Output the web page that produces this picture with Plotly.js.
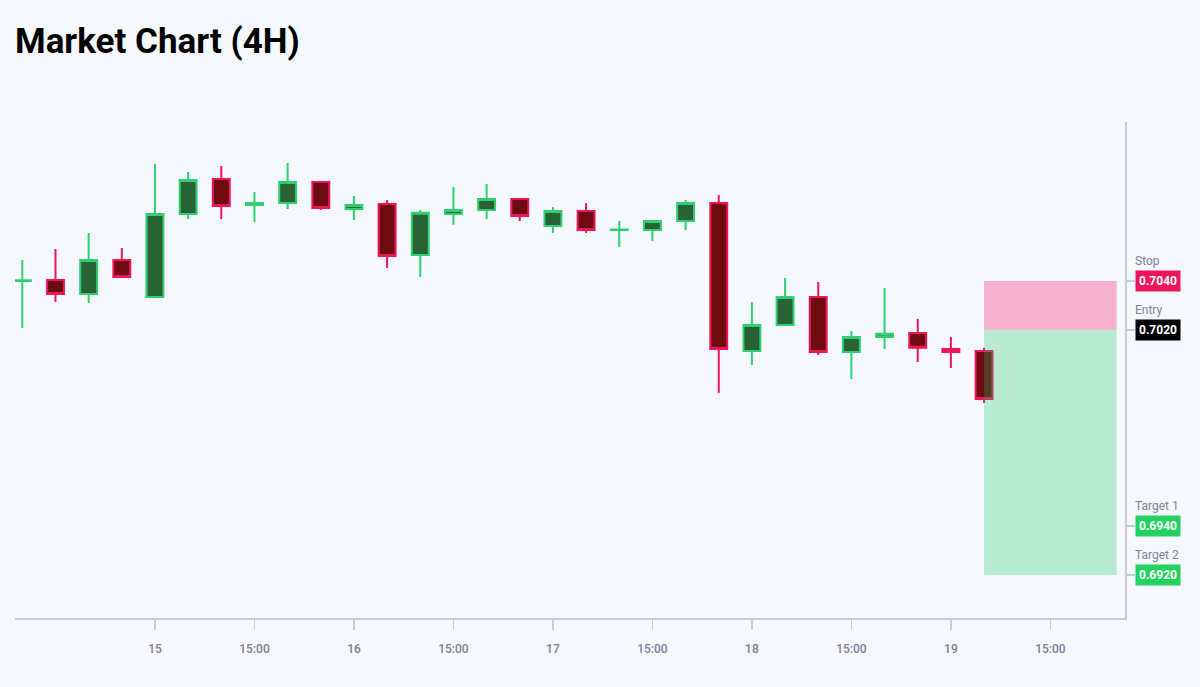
<!DOCTYPE html>
<html>
<head>
<meta charset="utf-8">
<script src="https://cdn.plot.ly/plotly-3.0.1.min.js"></script>
<style>
  html, body { margin: 0; padding: 0; background: #f5f8fd; }
  #chart { width: 1200px; height: 687px; }
</style>
</head>
<body>
<div id="chart"></div>
<script>
// 4H bars
const times = [
    '2024-03-14 08:00', '2024-03-14 12:00', '2024-03-14 16:00', '2024-03-14 20:00',
    '2024-03-15 00:00', '2024-03-15 04:00', '2024-03-15 08:00', '2024-03-15 12:00',
    '2024-03-15 16:00', '2024-03-15 20:00', '2024-03-16 00:00', '2024-03-16 04:00',
    '2024-03-16 08:00', '2024-03-16 12:00', '2024-03-16 16:00', '2024-03-16 20:00',
    '2024-03-17 00:00', '2024-03-17 04:00', '2024-03-17 08:00', '2024-03-17 12:00',
    '2024-03-17 16:00', '2024-03-17 20:00', '2024-03-18 00:00', '2024-03-18 04:00',
    '2024-03-18 08:00', '2024-03-18 12:00', '2024-03-18 16:00', '2024-03-18 20:00',
    '2024-03-19 00:00', '2024-03-19 04:00'
];
const openP  = [0.70400, 0.70404, 0.70347, 0.70486, 0.70335, 0.70673, 0.70816, 0.70710,
                0.70718, 0.70804, 0.70694, 0.70714, 0.70506, 0.70673, 0.70690, 0.70735,
                0.70624, 0.70686, 0.70608, 0.70608, 0.70645, 0.70718, 0.70114, 0.70220,
                0.70335, 0.70110, 0.70171, 0.70188, 0.70122, 0.70114];
const highP  = [0.70486, 0.70531, 0.70596, 0.70535, 0.70878, 0.70845, 0.70869, 0.70763,
                0.70882, 0.70806, 0.70747, 0.70731, 0.70690, 0.70784, 0.70796, 0.70739,
                0.70702, 0.70718, 0.70645, 0.70649, 0.70731, 0.70751, 0.70314, 0.70412,
                0.70396, 0.70196, 0.70371, 0.70245, 0.70171, 0.70127];
const lowP   = [0.70208, 0.70314, 0.70310, 0.70416, 0.70331, 0.70653, 0.70653, 0.70641,
                0.70694, 0.70690, 0.70649, 0.70453, 0.70416, 0.70629, 0.70653, 0.70645,
                0.70596, 0.70596, 0.70539, 0.70563, 0.70608, 0.69943, 0.70057, 0.70218,
                0.70098, 0.70000, 0.70122, 0.70069, 0.70045, 0.69902];
const closeP = [0.70403, 0.70347, 0.70486, 0.70416, 0.70673, 0.70812, 0.70706, 0.70718,
                0.70804, 0.70698, 0.70710, 0.70502, 0.70678, 0.70690, 0.70735, 0.70665,
                0.70686, 0.70608, 0.70610, 0.70645, 0.70718, 0.70122, 0.70220, 0.70335,
                0.70110, 0.70171, 0.70184, 0.70127, 0.70110, 0.69918];

// trade levels
const levelNames  = ['Stop', 'Entry', 'Target 1', 'Target 2'];
const levelValues = [0.7040, 0.7020, 0.6940, 0.6920];
const levelColors = ['#f0145a', '#000000', '#22d160', '#22d160'];
const positionSpan = ['2024-03-19 04:00', '2024-03-19 20:00'];

// x ticks
const xTickVals = ['2024-03-15 00:00', '2024-03-15 12:00', '2024-03-16 00:00', '2024-03-16 12:00',
                   '2024-03-17 00:00', '2024-03-17 12:00', '2024-03-18 00:00', '2024-03-18 12:00',
                   '2024-03-19 00:00', '2024-03-19 12:00'];
const xTickText = ['15', '15:00', '16', '15:00', '17', '15:00', '18', '15:00', '19', '15:00'];

const candles = {
    type: 'candlestick',
    x: times,
    open: openP,
    high: highP,
    low: lowP,
    close: closeP,
    increasing: { line: { color: '#2fcf72', width: 2 }, fillcolor: '#296335' },
    decreasing: { line: { color: '#f0145a', width: 2 }, fillcolor: '#6e0b10' },
    whiskerwidth: 0,
    hoverinfo: 'skip',
    showlegend: false
};

// risk / reward boxes
const shapes = [
    {
        type: 'rect', xref: 'x', yref: 'y', layer: 'above',
        x0: positionSpan[0], x1: positionSpan[1],
        y0: levelValues[1], y1: levelValues[0],
        fillcolor: 'rgba(245,20,90,0.3)', line: { width: 0 }
    },
    {
        type: 'rect', xref: 'x', yref: 'y', layer: 'above',
        x0: positionSpan[0], x1: positionSpan[1],
        y0: levelValues[3], y1: levelValues[1],
        fillcolor: 'rgba(20,200,100,0.27)', line: { width: 0 }
    }
];

const annotations = [];
levelValues.forEach((v, i) => {
    annotations.push({
        xref: 'paper', yref: 'y', x: 1, y: v,
        xanchor: 'left', yanchor: 'middle', xshift: 10,
        text: '<b>' + v.toFixed(4) + '</b>',
        showarrow: false,
        bgcolor: levelColors[i],
        borderpad: 3,
        font: { family: 'Roboto, sans-serif', size: 12, color: '#ffffff' }
    });
    annotations.push({
        xref: 'paper', yref: 'y', x: 1, y: v,
        xanchor: 'left', yanchor: 'middle', xshift: 8, yshift: 20,
        text: levelNames[i],
        showarrow: false,
        font: { family: 'Roboto, sans-serif', size: 12, color: '#7f839c' }
    });
});

const layout = {
    width: 1200,
    height: 687,
    paper_bgcolor: '#f5f8fd',
    plot_bgcolor: '#f5f8fd',
    margin: { l: 15, r: 75, t: 122, b: 69 },
    title: {
        text: '<b>Market Chart (4H)</b>',
        x: 0.0125, xanchor: 'left', xref: 'container',
        y: 0.941, yanchor: 'middle', yref: 'container',
        font: { family: 'Roboto, sans-serif', size: 35, color: '#000000' }
    },
    boxgap: 0.49,
    boxgroupgap: 0,
    xaxis: {
        type: 'date',
        range: ['2024-03-14 07:07', '2024-03-19 21:00'],
        rangeslider: { visible: false },
        showgrid: false,
        zeroline: false,
        showline: true,
        linecolor: '#c8ccd6',
        linewidth: 1.5,
        ticks: 'outside',
        ticklen: 10,
        tickwidth: 1.5,
        tickcolor: '#c8ccd6',
        ticklabelstandoff: 9,
        tickvals: xTickVals,
        ticktext: xTickText,
        tickfont: { family: 'Roboto, sans-serif', size: 12, color: '#7c8099', weight: 500 }
    },
    yaxis: {
        side: 'right',
        range: [0.69024, 0.71049],
        showgrid: false,
        zeroline: false,
        showline: true,
        linecolor: '#c8ccd6',
        linewidth: 1.5,
        ticks: 'outside',
        ticklen: 8,
        tickwidth: 1.5,
        tickcolor: '#c8ccd6',
        tickvals: levelValues,
        showticklabels: false
    },
    shapes: shapes,
    annotations: annotations,
    hovermode: false
};

Plotly.newPlot('chart', [candles], layout, { displayModeBar: false, staticPlot: true });
</script>
</body>
</html>
